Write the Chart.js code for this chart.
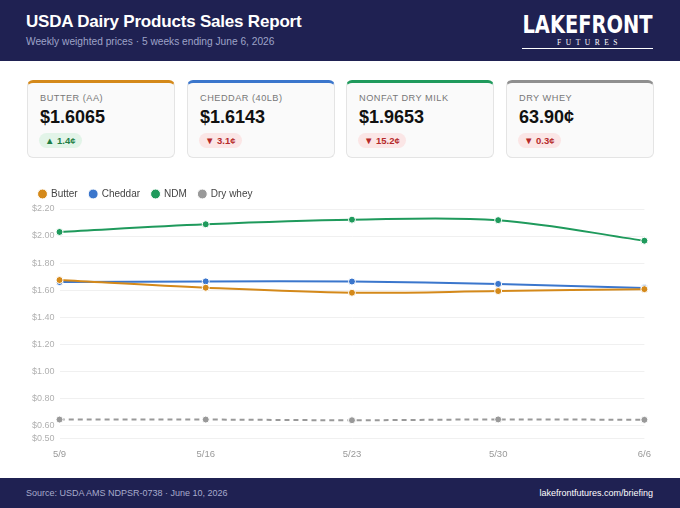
<!DOCTYPE html>
<html>
<head>
<meta charset="UTF-8">
<title>USDA Dairy Products Sales Report</title>
<script src="https://cdn.jsdelivr.net/npm/chart.js"></script>
<style>
    body { margin: 0; width: 680px; height: 508px; overflow: hidden; background: #fff; font-family: "Liberation Sans", Arial, sans-serif; position: relative; }
    #header { position: absolute; left: 0; top: 0; width: 680px; height: 61px; background: #1f2152; }
    #title { position: absolute; left: 26px; top: 12px; color: #fff; font-size: 17px; font-weight: bold; letter-spacing: -0.2px; }
    #subtitle { position: absolute; left: 26px; top: 36px; color: #9ea3c8; font-size: 10.2px; }
    #logo { position: absolute; left: 522px; top: 13px; width: 131px; text-align: center; color: #fff; }
    #logo .big { width: 145px; margin-left: -7px; font-size: 24px; line-height: 25px; font-weight: bold; font-family: "Liberation Sans Narrow", "DejaVu Sans Condensed", sans-serif; transform: scaleX(0.9); transform-origin: center; white-space: nowrap; }
    #logo .small { font-family: "Liberation Serif", serif; font-size: 7.5px; letter-spacing: 4.5px; line-height: 8px; margin-top: 1px; padding-left: 4px; border-bottom: 1.5px solid #fff; padding-bottom: 1px; }
    .card { position: absolute; top: 80px; width: 146px; height: 74px; background: #fafafa; border: 1px solid #e4e4e4; border-top: 3px solid #ccc; border-radius: 6px; }
    .card .lbl { position: absolute; left: 12px; top: 10px; font-size: 9.2px; color: #777; letter-spacing: 0.5px; }
    .card .val { position: absolute; left: 12px; top: 24px; font-size: 18px; font-weight: bold; color: #111; }
    .card .chg { position: absolute; left: 11px; top: 50px; font-size: 9.5px; font-weight: bold; padding: 2px 6px; border-radius: 8px; }
    .up { background: #e2f4e8; color: #1e7d45; }
    .down { background: #fbe6e6; color: #b52a2a; }
    #chartBox { position: absolute; left: 27px; top: 177px; width: 634px; height: 293px; }
    #footer { position: absolute; left: 0; top: 478px; width: 680px; height: 30px; background: #1f2152; font-size: 9px; }
    #footer .l { position: absolute; left: 26px; top: 10px; color: #a7abcc; }
    #footer .r { position: absolute; right: 27px; top: 10px; color: #fff; }
</style>
</head>
<body>
<div id="header">
    <div id="title">USDA Dairy Products Sales Report</div>
    <div id="subtitle">Weekly weighted prices · 5 weeks ending June 6, 2026</div>
    <div id="logo"><div class="big">LAKEFRONT</div><div class="small">FUTURES</div></div>
</div>

<div class="card" style="left:27px; border-top-color:#d4891a;">
    <div class="lbl">BUTTER (AA)</div><div class="val">$1.6065</div><div class="chg up">▲ 1.4¢</div>
</div>
<div class="card" style="left:187px; border-top-color:#3b76cc;">
    <div class="lbl">CHEDDAR (40LB)</div><div class="val">$1.6143</div><div class="chg down">▼ 3.1¢</div>
</div>
<div class="card" style="left:346px; border-top-color:#1f9a5c;">
    <div class="lbl">NONFAT DRY MILK</div><div class="val">$1.9653</div><div class="chg down">▼ 15.2¢</div>
</div>
<div class="card" style="left:506px; border-top-color:#8f8f8f;">
    <div class="lbl">DRY WHEY</div><div class="val">63.90¢</div><div class="chg down">▼ 0.3¢</div>
</div>

<div id="chartBox"><canvas id="lineChart"></canvas></div>

<div id="footer">
    <div class="l">Source: USDA AMS NDPSR-0738 · June 10, 2026</div>
    <div class="r">lakefrontfutures.com/briefing</div>
</div>

<script>
    // weekly weighted prices, $/lb
    var weeks = ['5/9', '5/16', '5/23', '5/30', '6/6'];
    var butter = [1.674, 1.617, 1.580, 1.5925, 1.6065];
    var cheddar = [1.659, 1.664, 1.663, 1.6453, 1.6143];
    var ndm = [2.030, 2.087, 2.121, 2.1173, 1.9653];
    var whey = [0.641, 0.641, 0.636, 0.642, 0.639];

    function series(label, data, color, dashed) {
        return {
            label: label,
            data: data,
            borderColor: color,
            backgroundColor: color,
            borderWidth: 2,
            borderDash: dashed ? [5, 4] : [],
            pointRadius: 3.5,
            pointBorderColor: '#fff',
            pointBorderWidth: 1,
            pointBackgroundColor: color,
            tension: 0.35
        };
    }

    var ctx = document.getElementById('lineChart').getContext('2d');
    var chart = new Chart(ctx, {
        type: 'line',
        data: {
            labels: weeks,
            datasets: [
                series('Butter', butter, '#d4891a'),
                series('Cheddar', cheddar, '#3b76cc'),
                series('NDM', ndm, '#1f9a5c'),
                series('Dry whey', whey, '#999999', true)
            ]
        },
        options: {
            responsive: true,
            maintainAspectRatio: false,
            animation: false,
            plugins: {
                legend: {
                    align: 'start',
                    labels: {
                        usePointStyle: true,
                        pointStyle: 'circle',
                        boxWidth: 7,
                        boxHeight: 7,
                        padding: 12,
                        color: '#444',
                        font: { family: 'Liberation Sans', size: 10 }
                    }
                },
                tooltip: { enabled: false }
            },
            scales: {
                x: {
                    grid: { display: false, drawTicks: false },
                    border: { display: false },
                    ticks: { padding: 10, color: '#999', font: { family: 'Liberation Sans', size: 9.5 } }
                },
                y: {
                    min: 0.5,
                    max: 2.2,
                    ticks: {
                        stepSize: 0.2,
                        padding: 5,
                        color: '#b0b0b0',
                        font: { family: 'Liberation Sans', size: 9 },
                        callback: function (value) { return '$' + value.toFixed(2); }
                    },
                    grid: { color: '#f0f0f0', drawTicks: false },
                    border: { display: false }
                }
            }
        }
    });
</script>
</body>
</html>
